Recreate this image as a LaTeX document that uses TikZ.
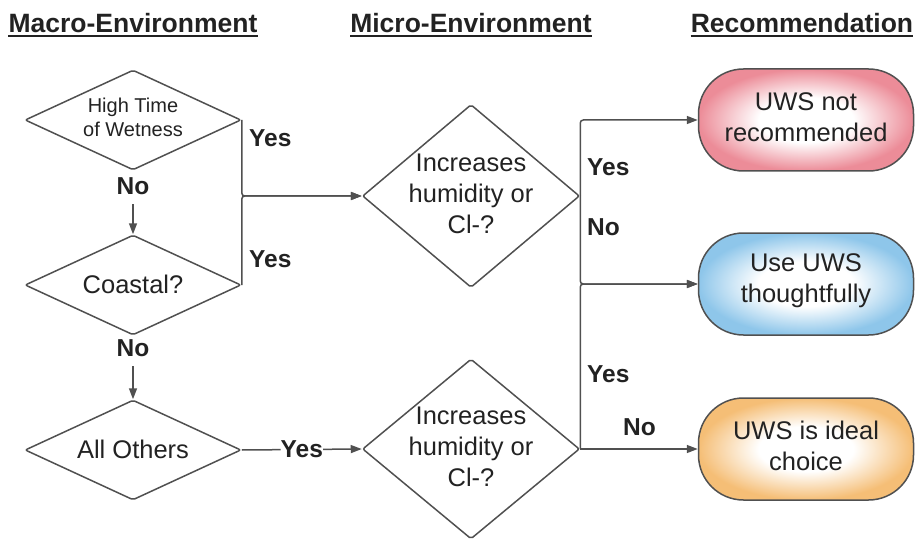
\documentclass[tikz,border=0pt]{standalone}
\usepackage{fontspec}
\setmainfont{Liberation Sans}
\usetikzlibrary{shapes.geometric,arrows.meta}
\definecolor{linec}{HTML}{505050}
\definecolor{textc}{HTML}{222222}
\definecolor{redc}{HTML}{EC8C98}
\definecolor{bluec}{HTML}{8EC6EA}
\definecolor{orangec}{HTML}{F5BE76}
\pgfdeclareradialshading{redshade}{\pgfpoint{0bp}{0bp}}{color(0bp)=(white); color(11bp)=(white); color(25bp)=(redc); color(50bp)=(redc)}
\pgfdeclareradialshading{blueshade}{\pgfpoint{0bp}{0bp}}{color(0bp)=(white); color(11bp)=(white); color(25bp)=(bluec); color(50bp)=(bluec)}
\pgfdeclareradialshading{orangeshade}{\pgfpoint{0bp}{0bp}}{color(0bp)=(white); color(11bp)=(white); color(25bp)=(orangec); color(50bp)=(orangec)}
\tikzset{
  dia/.style={diamond, draw=linec, line width=1.5pt, inner sep=0pt, rounded corners=2pt},
  txt/.style={font=\fontsize{25.5}{31}\selectfont, align=center, text=textc, inner sep=0pt},
  smalltxt/.style={font=\fontsize{20}{24}\selectfont, align=center, text=textc, inner sep=0pt},
  lbl/.style={font=\bfseries\fontsize{24.5}{28}\selectfont, text=textc, inner sep=0pt},
  nolbl/.style={font=\bfseries\fontsize{24.5}{28}\selectfont, text=textc, inner sep=10pt, anchor=base},
  hdr/.style={font=\bfseries\fontsize{26.5}{30}\selectfont, text=textc, inner sep=0pt, anchor=base},
  rec/.style={draw=linec, line width=1.5pt, rounded corners=45pt, minimum width=215pt, minimum height=102pt, inner sep=0pt},
  conn/.style={draw=linec, line width=1.5pt, rounded corners=3pt},
  arr/.style={conn, -{Triangle[length=11pt,width=8pt]}},
}
\begin{document}
\begin{tikzpicture}[x=1pt,y=-1pt]
\useasboundingbox (0,0) rectangle (915,540);
% headers
\node[hdr] (h1) at (133,33) {Macro-Environment};
\node[hdr] (h2) at (471,33) {Micro-Environment};
\node[hdr] (h3) at (802,33) {Recommendation};
\foreach \h in {h1,h2,h3}{
  \draw[textc, line width=2pt] ([yshift=-3.5pt]\h.base west) -- ([yshift=-3.5pt]\h.base east);
}
% macro diamonds
\node[dia, minimum width=216pt, minimum height=100pt] (d1) at (133,120) {};
\node[smalltxt] (d1t) at (133,117) {High Time\\of Wetness};
\node[dia, minimum width=216pt, minimum height=100pt] (d2) at (133,285) {};
\node[txt] (d2t) at (133,284) {Coastal?};
\node[dia, minimum width=216pt, minimum height=100pt] (d3) at (133,450) {};
\node[txt] (d3t) at (133,449) {All Others};
% micro diamonds
\node[dia, minimum width=217pt, minimum height=183pt] (m1) at (471,196) {};
\node[txt] (m1t) at (471,194) {Increases\\humidity or\\Cl-?};
\node[dia, minimum width=217pt, minimum height=180pt] (m2) at (471,449) {};
\node[txt] (m2t) at (471,447) {Increases\\humidity or\\Cl-?};
% recommendation boxes
\node[rec, shading=redshade] (r1) at (806,120) {};
\node[txt] (r1t) at (806,117) {UWS not\\recommended};
\node[rec, shading=blueshade] (r2) at (806,284) {};
\node[txt] (r2t) at (806,281) {Use UWS\\thoughtfully};
\node[rec, shading=orangeshade] (r3) at (806,449) {};
\node[txt] (r3t) at (806,446) {UWS is ideal\\choice};
% No labels under diamonds
\node[nolbl] (no1) at (133,194) {No};
\node[nolbl] (no2) at (133,356) {No};
\draw[arr] (no1) -- (d2.north);
\draw[arr] (no2) -- (d3.north);
% macro -> micro
\draw[arr] (d1.east) -- (d1.east |- m1.west) -- (m1.west);
\draw[arr] (d2.east) -- (d2.east |- m1.west) -- (m1.west);
\draw[arr] (d3.east) -- node[lbl, fill=white, inner xsep=0pt] (y3) {Yes} (m2.west);
\node[lbl, anchor=base west] (y1) at (249,147) {Yes};
\node[lbl, anchor=base west] (y2) at (249,267) {Yes};
% micro -> recommendation
\draw[arr] (m1.east) |- (r1.west);
\draw[arr] (m1.east) |- (r2.west);
\draw[arr] (m2.east) |- (r2.west);
\draw[arr] (m2.east) -- (r3.west);
\node[lbl, anchor=base west] (y4) at (587,176) {Yes};
\node[lbl, anchor=base west] (n4) at (587,235) {No};
\node[lbl, anchor=base west] (y5) at (587,382) {Yes};
\node[lbl, anchor=base west] (n5) at (623,435) {No};
\end{tikzpicture}
\end{document}
